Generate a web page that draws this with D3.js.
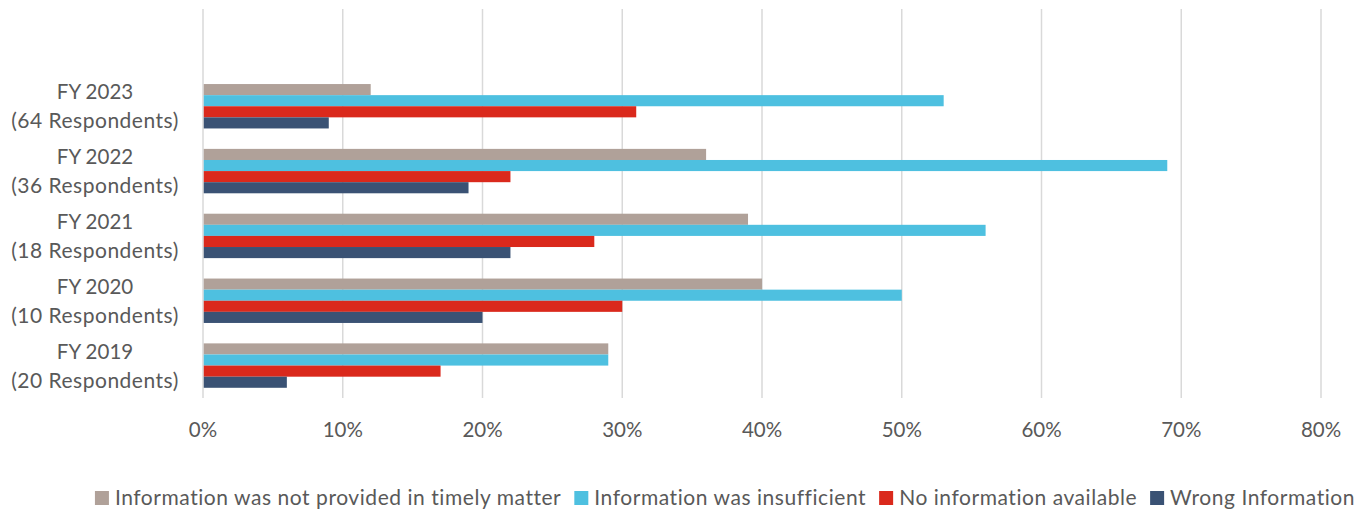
<!DOCTYPE html>
<html><head><meta charset="utf-8">
<script src="https://cdn.jsdelivr.net/npm/d3@7"></script>
<style>body{margin:0;background:#fff}svg{display:block}text{font-family:Lato,"Open Sans",sans-serif;fill:#595959}</style>
</head><body><svg id="c" width="1371" height="512"></svg>
<script>
const categories = ["FY 2023","FY 2022","FY 2021","FY 2020","FY 2019"];
const respondents = ["(64 Respondents)","(36 Respondents)","(18 Respondents)","(10 Respondents)","(20 Respondents)"];
const seriesNames = ["Information was not provided in timely matter","Information was insufficient","No information available","Wrong Information"];
const seriesColors = ["#B0A199","#4EC0E0","#DA291C","#3A5274"];
const timely       = [12,36,39,40,29];
const insufficient = [53,69,56,50,29];
const noInfo       = [31,22,28,30,17];
const wrong        = [9,19,22,20,6];
const xTicks = [0,10,20,30,40,50,60,70,80];

(function(){
const seriesVals = [timely, insufficient, noInfo, wrong];
const svg = d3.select("#c");
const pL = 203, pR = 1321, pT = 9, pB = 398;

const x = d3.scaleLinear().domain([0,80]).range([pL,pR]);
const y = d3.scaleBand().domain(["__blank__", ...categories]).range([pT,pB]).paddingInner(0.315).paddingOuter(0.1575);
const yi = d3.scaleBand().domain(d3.range(seriesNames.length)).range([0,y.bandwidth()]);

svg.append("g").selectAll("line").data(xTicks).join("line")
  .attr("x1",d=>x(d)).attr("x2",d=>x(d)).attr("y1",pT).attr("y2",pB)
  .attr("stroke","#D9D9D9").attr("stroke-width",1.5);

categories.forEach((c,ci)=>{
  seriesVals.forEach((vals,si)=>{
    svg.append("rect").attr("x",x(0)+0.75).attr("y",y(c)+yi(si))
      .attr("width",x(vals[ci])-x(0)-0.75).attr("height",yi.bandwidth())
      .attr("fill",seriesColors[si]);
  });
});

svg.append("g").selectAll("text").data(xTicks).join("text")
  .attr("x",d=>x(d)).attr("y",437).attr("text-anchor","middle")
  .style("font-size","20.5px").text(d=>d+"%");

categories.forEach((c,ci)=>{
  const cy = y(c)+y.bandwidth()/2;
  svg.append("text").attr("x",95).attr("y",cy-7).attr("text-anchor","middle").style("font-size","20.5px").text(c);
  svg.append("text").attr("x",95).attr("y",cy+22).attr("text-anchor","middle").style("font-size","21px").style("letter-spacing","0.5px").text(respondents[ci]);
});

const lg = svg.append("g");
let lx = 0;
seriesNames.forEach((n,i)=>{
  const g = lg.append("g").attr("transform",`translate(${lx},0)`);
  g.append("rect").attr("x",0).attr("y",-14).attr("width",14).attr("height",14).attr("fill",seriesColors[i]);
  const t = g.append("text").attr("x",20).attr("y",0).style("font-size","21px").style("letter-spacing","0.55px").text(n);
  lx += 20 + t.node().getComputedTextLength() + 13;
});
const lw = lx - 13;
lg.attr("transform",`translate(${725 - lw/2},505)`);
})();
</script></body></html>
